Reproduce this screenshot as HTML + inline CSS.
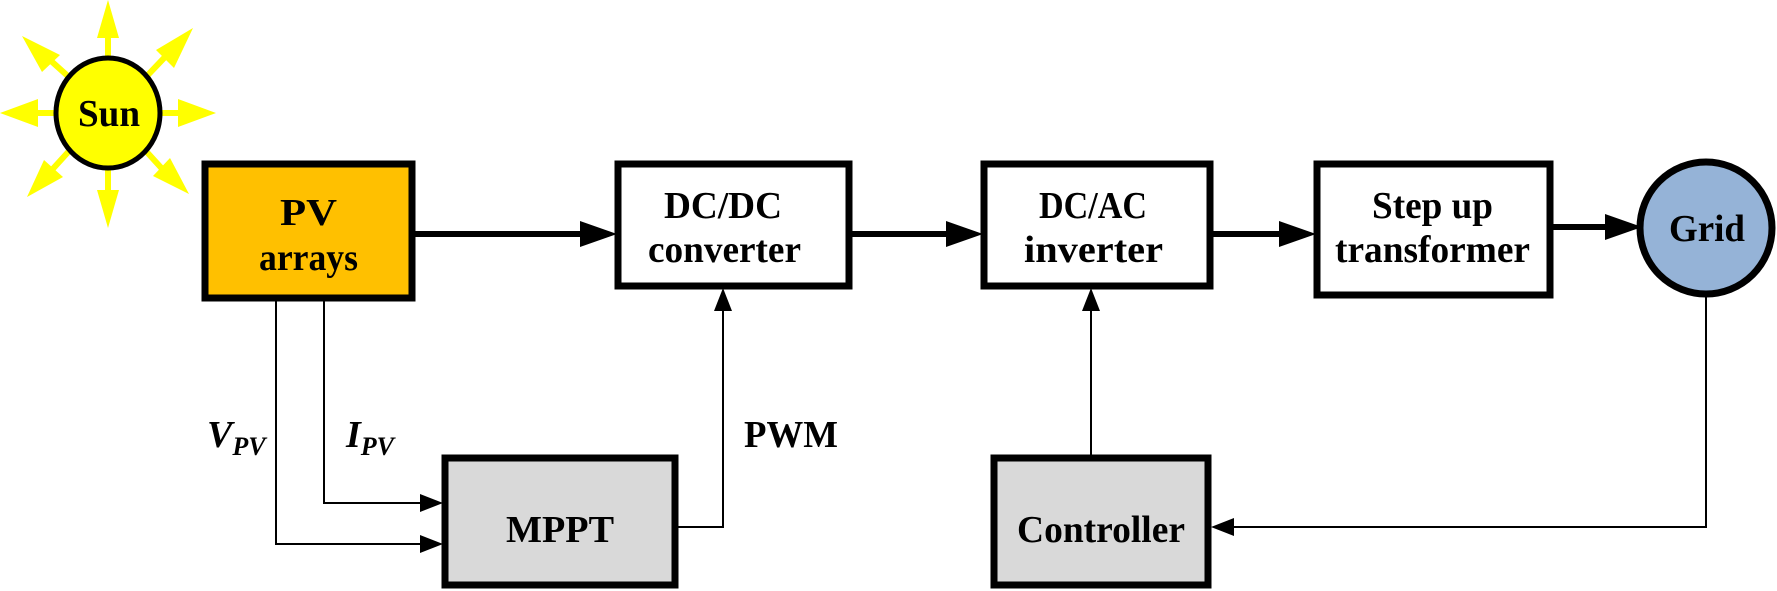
<!DOCTYPE html>
<html><head><meta charset="utf-8"><style>
html,body{margin:0;padding:0;background:#fff;}
svg{display:block;}
text{font-family:"Liberation Serif",serif;font-weight:bold;fill:#000;}
</style></head><body>
<svg width="1777" height="591" viewBox="0 0 1777 591" xmlns="http://www.w3.org/2000/svg">
<!-- sun rays -->
<g stroke="#FFFF00" stroke-width="6" fill="#FFFF00">
<line x1="108" y1="60" x2="108" y2="35"/><polygon points="108,0 97,38 119,38" stroke="none"/>
<line x1="108" y1="166" x2="108" y2="192"/><polygon points="108,228 97,190 119,190" stroke="none"/>
<line x1="55" y1="113" x2="33" y2="113"/><polygon points="0,113 38,99 38,127" stroke="none"/>
<line x1="160" y1="113" x2="180" y2="113"/><polygon points="216,113 178,99 178,127" stroke="none"/>
<line x1="70" y1="78" x2="50" y2="60"/><polygon points="22,36 60,55 42,72" stroke="none"/>
<line x1="145" y1="78" x2="165" y2="57"/><polygon points="193,28 174,68 156,50" stroke="none"/>
<line x1="70" y1="150" x2="50" y2="172"/><polygon points="27,197 44,160 63,177" stroke="none"/>
<line x1="145" y1="150" x2="165" y2="172"/><polygon points="189,194 153,176 170,158" stroke="none"/>
</g>
<ellipse cx="108" cy="113" rx="52" ry="55" fill="#FFFF00" stroke="#000" stroke-width="5"/>
<text x="78" y="126" font-size="38" textLength="62" lengthAdjust="spacingAndGlyphs">Sun</text>

<!-- boxes -->
<rect x="205" y="164" width="207" height="134" fill="#FFC000" stroke="#000" stroke-width="7"/>
<text x="280" y="225" font-size="38" textLength="57" lengthAdjust="spacingAndGlyphs">PV</text>
<text x="259" y="270" font-size="38" textLength="99" lengthAdjust="spacingAndGlyphs">arrays</text>

<rect x="618" y="164" width="231" height="122" fill="#fff" stroke="#000" stroke-width="7"/>
<text x="664" y="218" font-size="38" textLength="118" lengthAdjust="spacingAndGlyphs">DC/DC</text>
<text x="648" y="262" font-size="38" textLength="153" lengthAdjust="spacingAndGlyphs">converter</text>

<rect x="984" y="164" width="226" height="122" fill="#fff" stroke="#000" stroke-width="7"/>
<text x="1039" y="218" font-size="38" textLength="108" lengthAdjust="spacingAndGlyphs">DC/AC</text>
<text x="1024" y="262" font-size="38" textLength="139" lengthAdjust="spacingAndGlyphs">inverter</text>

<rect x="1317" y="164" width="233" height="131" fill="#fff" stroke="#000" stroke-width="7"/>
<text x="1372" y="218" font-size="38" textLength="121" lengthAdjust="spacingAndGlyphs">Step up</text>
<text x="1335" y="262" font-size="38" textLength="195" lengthAdjust="spacingAndGlyphs">transformer</text>

<ellipse cx="1706" cy="228" rx="66" ry="66" fill="#95B3D7" stroke="#000" stroke-width="7"/>
<text x="1669" y="241" font-size="38" textLength="76" lengthAdjust="spacingAndGlyphs">Grid</text>

<rect x="445" y="458" width="230" height="127" fill="#D9D9D9" stroke="#000" stroke-width="7"/>
<text x="506" y="542" font-size="38" textLength="108" lengthAdjust="spacingAndGlyphs">MPPT</text>

<rect x="994" y="458" width="214" height="127" fill="#D9D9D9" stroke="#000" stroke-width="7"/>
<text x="1017" y="542" font-size="38" textLength="168" lengthAdjust="spacingAndGlyphs">Controller</text>

<!-- thick arrows -->
<g stroke="#000" stroke-width="6">
<line x1="412" y1="234" x2="585" y2="234"/>
<line x1="849" y1="234" x2="950" y2="234"/>
<line x1="1210" y1="234" x2="1285" y2="234"/>
<line x1="1550" y1="227" x2="1610" y2="227"/>
</g>
<g fill="#000">
<polygon points="617,234 580,221 580,247"/>
<polygon points="983,234 946,221 946,247"/>
<polygon points="1316,234 1279,221 1279,247"/>
<polygon points="1642,227 1605,214 1605,240"/>
</g>
<!-- thin lines -->
<g stroke="#000" stroke-width="2" fill="none">
<polyline points="276,300 276,544 425,544"/>
<polyline points="324,300 324,503 425,503"/>
<polyline points="676,527 723,527 723,305"/>
<polyline points="1091,455 1091,305"/>
<polyline points="1706,294 1706,527 1228,527"/>
</g>
<g fill="#000">
<polygon points="443,544 420,535 420,553"/>
<polygon points="443,503 420,494 420,512"/>
<polygon points="723,288 714,311 732,311"/>
<polygon points="1091,288 1082,311 1100,311"/>
<polygon points="1211,527 1234,518 1234,536"/>
</g>
<!-- labels -->
<text x="207" y="447" font-size="38" font-style="italic">V<tspan font-size="26" dy="8">PV</tspan></text>
<text x="346" y="447" font-size="38" font-style="italic">I<tspan font-size="26" dy="8">PV</tspan></text>
<text x="744" y="447" font-size="38" textLength="94" lengthAdjust="spacingAndGlyphs">PWM</text>
</svg>
</body></html>
